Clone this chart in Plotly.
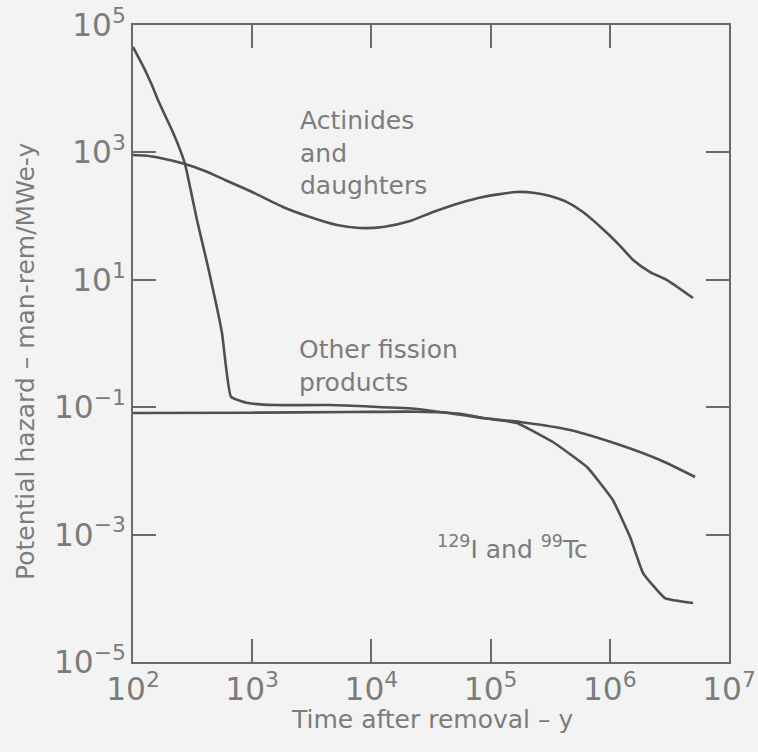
import plotly.graph_objects as go

# Potential hazard of spent-fuel constituents versus time after removal

# Actinides and daughters
act_years = [100, 126, 169, 273, 402, 592, 959, 1810, 3050, 5140, 8020, 12500,
             21100, 32900, 55300, 86300, 166000, 236000, 315000, 438000, 596000,
             948000, 1220000, 1570000, 2180000, 3020000, 4990000]
act_hazard = [910, 893, 817, 658, 511, 369, 248, 139, 96.8, 72.4, 65.0, 67.5,
              83.8, 116, 161, 200, 239, 231, 207, 166, 116,
              54.3, 34.0, 20.5, 13.2, 9.9, 5.18]

# Other fission products
ofp_years = [100, 112, 126, 144, 162, 185, 212, 243, 273, 301, 344, 426, 558, 664,
             923, 1550, 4500, 24200, 86300, 166000, 333000, 644000, 1060000,
             1480000, 1900000, 2900000, 4990000]
ofp_hazard = [45200, 30300, 19700, 11400, 6650, 3860, 2250, 1220, 658, 286, 86.9,
              15.9, 1.46, 0.145, 0.116, 0.108, 0.108, 0.0938, 0.0676, 0.0565,
              0.0284, 0.0115, 0.00349, 0.000916, 0.000249, 0.000101, 0.0000843]

# 129I and 99Tc
itc_years = [100, 959, 6610, 24200, 55300, 86300, 177000, 464000, 1220000,
             2640000, 5190000]
itc_hazard = [0.0811, 0.0820, 0.0840, 0.0850, 0.0790, 0.0676, 0.0586, 0.0439,
              0.0255, 0.0148, 0.00802]

LINE = "#4f4f4f"
AXIS = "#6a6a6a"
TEXT = "#7c7c7c"
BG = "#f3f3f3"
FONT = "DejaVu Sans"

fig = go.Figure()
fig.add_trace(go.Scatter(x=act_years, y=act_hazard, mode="lines",
                         line=dict(color=LINE, width=2.6, shape="spline", smoothing=0.6),
                         name="Actinides and daughters"))
fig.add_trace(go.Scatter(x=ofp_years, y=ofp_hazard, mode="lines",
                         line=dict(color=LINE, width=2.6, shape="spline", smoothing=0.35),
                         name="Other fission products"))
fig.add_trace(go.Scatter(x=itc_years, y=itc_hazard, mode="lines",
                         line=dict(color=LINE, width=2.6, shape="spline", smoothing=0.6),
                         name="129I and 99Tc"))

axis_common = dict(
    type="log",
    showgrid=False,
    zeroline=False,
    showline=True,
    linecolor=AXIS,
    linewidth=2.2,
    mirror="ticks",
    ticks="inside",
    ticklen=23,
    tickwidth=2,
    tickcolor=AXIS,
    exponentformat="power",
    automargin=False,
    tickfont=dict(family=FONT, size=25, color=TEXT),
)

# decades on the time axis, every second decade on the hazard axis
fig.update_xaxes(range=[2, 7], dtick=1, **axis_common)
fig.update_yaxes(range=[-5, 5], dtick=2, tick0=1,
                 labelalias={"10": "10<sup>1</sup>"}, **axis_common)

label_font = dict(family=FONT, size=25, color=TEXT)
fig.add_annotation(x=3.384, y=2.99, xref="x", yref="y", xanchor="left", yanchor="middle",
                   align="left", showarrow=False, font=label_font,
                   text="Actinides<br>and<br>daughters")
fig.add_annotation(x=3.376, y=-0.353, xref="x", yref="y", xanchor="left", yanchor="middle",
                   align="left", showarrow=False, font=label_font,
                   text="Other fission<br>products")
fig.add_annotation(x=4.53, y=-3.2, xref="x", yref="y", xanchor="left", yanchor="middle",
                   align="left", showarrow=False, font=label_font,
                   text="<sup>129</sup>I and <sup>99</sup>Tc")

# Axis titles
fig.add_annotation(x=0.502, y=-0.091, xref="paper", yref="paper", xanchor="center",
                   yanchor="middle", showarrow=False, font=label_font,
                   text="Time after removal – y")
fig.add_annotation(x=-0.1795, y=0.471, xref="paper", yref="paper", xanchor="center",
                   yanchor="middle", showarrow=False, font=label_font, textangle=-90,
                   text="Potential hazard – man-rem/MWe-y")

fig.update_layout(
    width=758,
    height=752,
    margin=dict(l=133, r=29, t=25, b=90),
    paper_bgcolor=BG,
    plot_bgcolor=BG,
    showlegend=False,
)

fig.write_html("out.html")
